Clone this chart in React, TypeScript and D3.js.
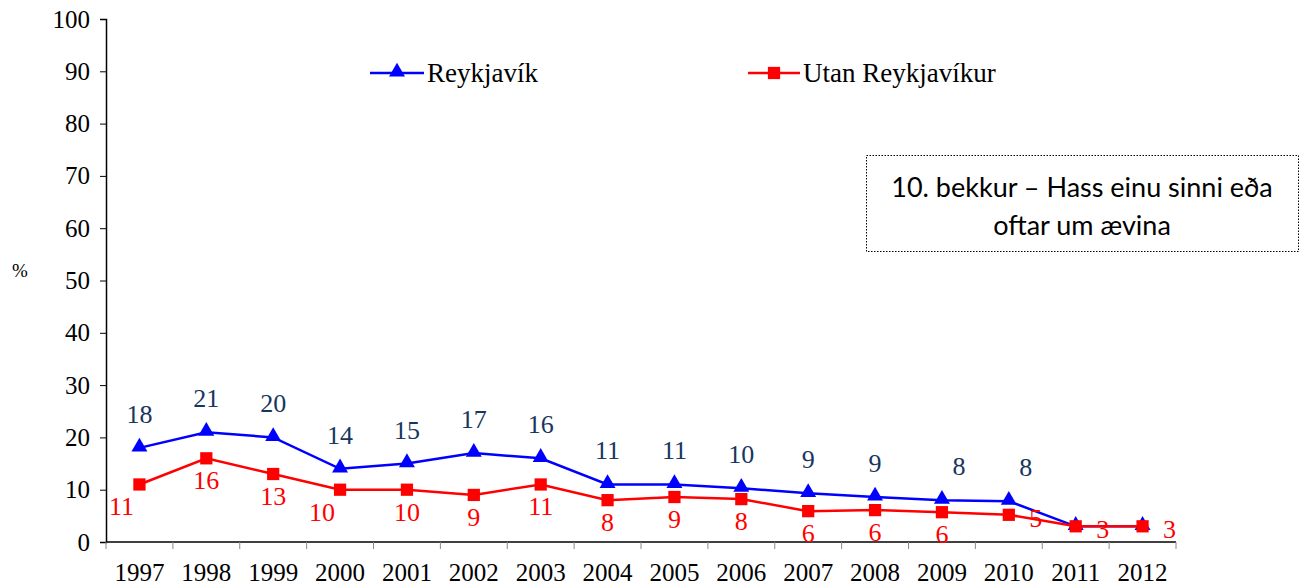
import React, { useRef, useEffect } from 'react'
import * as d3 from 'd3'

const years = ['1997', '1998', '1999', '2000', '2001', '2002', '2003', '2004', '2005', '2006', '2007', '2008', '2009', '2010', '2011', '2012']
const reykjavik = [18, 21, 20, 14, 15, 17, 16, 11, 11, 10.3, 9.3, 8.6, 8.0, 7.8, 3.0, 3.0]
const reykjavikLabels = ['18', '21', '20', '14', '15', '17', '16', '11', '11', '10', '9', '9', '8', '8', '', '']
const utan = [11, 16, 13, 10, 10, 9, 11, 8, 8.6, 8.2, 5.9, 6.1, 5.7, 5.2, 3.0, 3.0]
const utanLabels = ['11', '16', '13', '10', '10', '9', '11', '8', '9', '8', '6', '6', '6', '5', '3', '3']
const yTicks = [0, 10, 20, 30, 40, 50, 60, 70, 80, 90, 100]

export default function App() {
    const svgRef = useRef<SVGSVGElement>(null)

    useEffect(() => {
        const svg = d3.select(svgRef.current)
        svg.selectAll('*').remove()
        const serif = '"Liberation Serif", "Times New Roman", serif'

        const x = d3.scaleBand().domain(years).range([106, 1176])
        const y = d3.scaleLinear().domain([0, 100]).range([542, 19])
        const cx = (d: string) => (x(d) as number) + x.bandwidth() / 2

        // y axis
        const yAxis = d3.axisLeft(y).tickValues(yTicks).tickSize(6).tickPadding(10)
        const gy = svg.append('g').attr('transform', 'translate(106,0)').call(yAxis)
        gy.select('.domain').attr('stroke', '#000').attr('stroke-width', 1.5)
        gy.selectAll('line').attr('stroke', '#000')
        gy.selectAll('text').attr('font-family', serif).attr('font-size', 25).attr('fill', '#000')

        // x axis, ticks on band edges
        const gx = svg.append('g').attr('transform', 'translate(0,542)')
        gx.append('line').attr('x1', 106).attr('x2', 1176).attr('stroke', '#000').attr('stroke-width', 1.5)
        const edges = years.map(d => x(d) as number).concat([1176])
        gx.selectAll('.tk').data(edges).join('line')
            .attr('x1', d => d).attr('x2', d => d).attr('y1', 0).attr('y2', 7)
            .attr('stroke', '#888')
        gx.selectAll('.yl').data(years).join('text')
            .attr('x', d => cx(d)).attr('y', 39)
            .attr('text-anchor', 'middle')
            .attr('font-family', serif).attr('font-size', 25)
            .text(d => d)

        svg.append('text').attr('x', 20).attr('y', 277).attr('text-anchor', 'middle')
            .attr('font-family', serif).attr('font-size', 19).text('%')

        const line = d3.line<number>().x((_, i) => cx(years[i])).y(d => y(d))
        const tri = d3.symbol().type(d3.symbolTriangle).size(110)
        const sq = d3.symbol().type(d3.symbolSquare).size(150)

        // blue series
        svg.append('path').datum(reykjavik).attr('d', line)
            .attr('fill', 'none').attr('stroke', '#0000FF').attr('stroke-width', 2.5)
        svg.selectAll('.tri').data(reykjavik).join('path')
            .attr('d', tri)
            .attr('transform', (d, i) => `translate(${cx(years[i])},${y(d) - 1})`)
            .attr('fill', '#0000FF')

        // red series (drawn on top)
        svg.append('path').datum(utan).attr('d', line)
            .attr('fill', 'none').attr('stroke', '#FF0000').attr('stroke-width', 2.5)
        svg.selectAll('.sq').data(utan).join('path')
            .attr('d', sq)
            .attr('transform', (d, i) => `translate(${cx(years[i])},${y(d)})`)
            .attr('fill', '#FF0000')

        svg.selectAll('.rl').data(reykjavik).join('text')
            .attr('x', (d, i) => cx(years[i]) + (i > 11 ? 17 : 0))
            .attr('y', d => y(d) - 25)
            .attr('text-anchor', 'middle')
            .attr('font-family', serif).attr('font-size', 26).attr('fill', '#17365D')
            .text((d, i) => reykjavikLabels[i])
        svg.selectAll('.ul').data(utan).join('text')
            .attr('x', (d, i) => cx(years[i]) + (i >= 13 ? 27 : i === 0 || i === 3 ? -18 : 0))
            .attr('y', (d, i) => y(d) + (i >= 13 ? 12 : 31))
            .attr('text-anchor', 'middle')
            .attr('font-family', serif).attr('font-size', 26).attr('fill', '#FF0000')
            .text((d, i) => utanLabels[i])

        // legend
        const lg = svg.append('g')
        lg.append('line').attr('x1', 370).attr('x2', 424).attr('y1', 73).attr('y2', 73)
            .attr('stroke', '#0000FF').attr('stroke-width', 2.5)
        lg.append('path').attr('d', tri).attr('transform', 'translate(397,72)').attr('fill', '#0000FF')
        lg.append('text').attr('x', 427).attr('y', 82).attr('font-family', serif).attr('font-size', 27).text('Reykjavík')
        lg.append('line').attr('x1', 748).attr('x2', 800).attr('y1', 73).attr('y2', 73)
            .attr('stroke', '#FF0000').attr('stroke-width', 2.5)
        lg.append('path').attr('d', sq).attr('transform', 'translate(774,73)').attr('fill', '#FF0000')
        lg.append('text').attr('x', 803).attr('y', 82).attr('font-family', serif).attr('font-size', 27).text('Utan Reykjavíkur')

        // title box
        const bx = svg.append('g')
        bx.append('rect').attr('x', 866.5).attr('y', 155.5).attr('width', 432).attr('height', 96)
            .attr('fill', '#fff').attr('stroke', '#000').attr('stroke-dasharray', '1.5,1.5')
        bx.append('text').attr('x', 1082).attr('y', 197).attr('text-anchor', 'middle')
            .attr('font-family', 'Lato, "Open Sans", sans-serif').attr('font-size', 27).text('10. bekkur – Hass einu sinni eða')
        bx.append('text').attr('x', 1082).attr('y', 235).attr('text-anchor', 'middle')
            .attr('font-family', 'Lato, "Open Sans", sans-serif').attr('font-size', 27).text('oftar um ævina')
    }, [])

    return (
        <svg ref={svgRef} width={1309} height={587} style={{ position: 'absolute', left: 0, top: 0 }} />
    )
}
